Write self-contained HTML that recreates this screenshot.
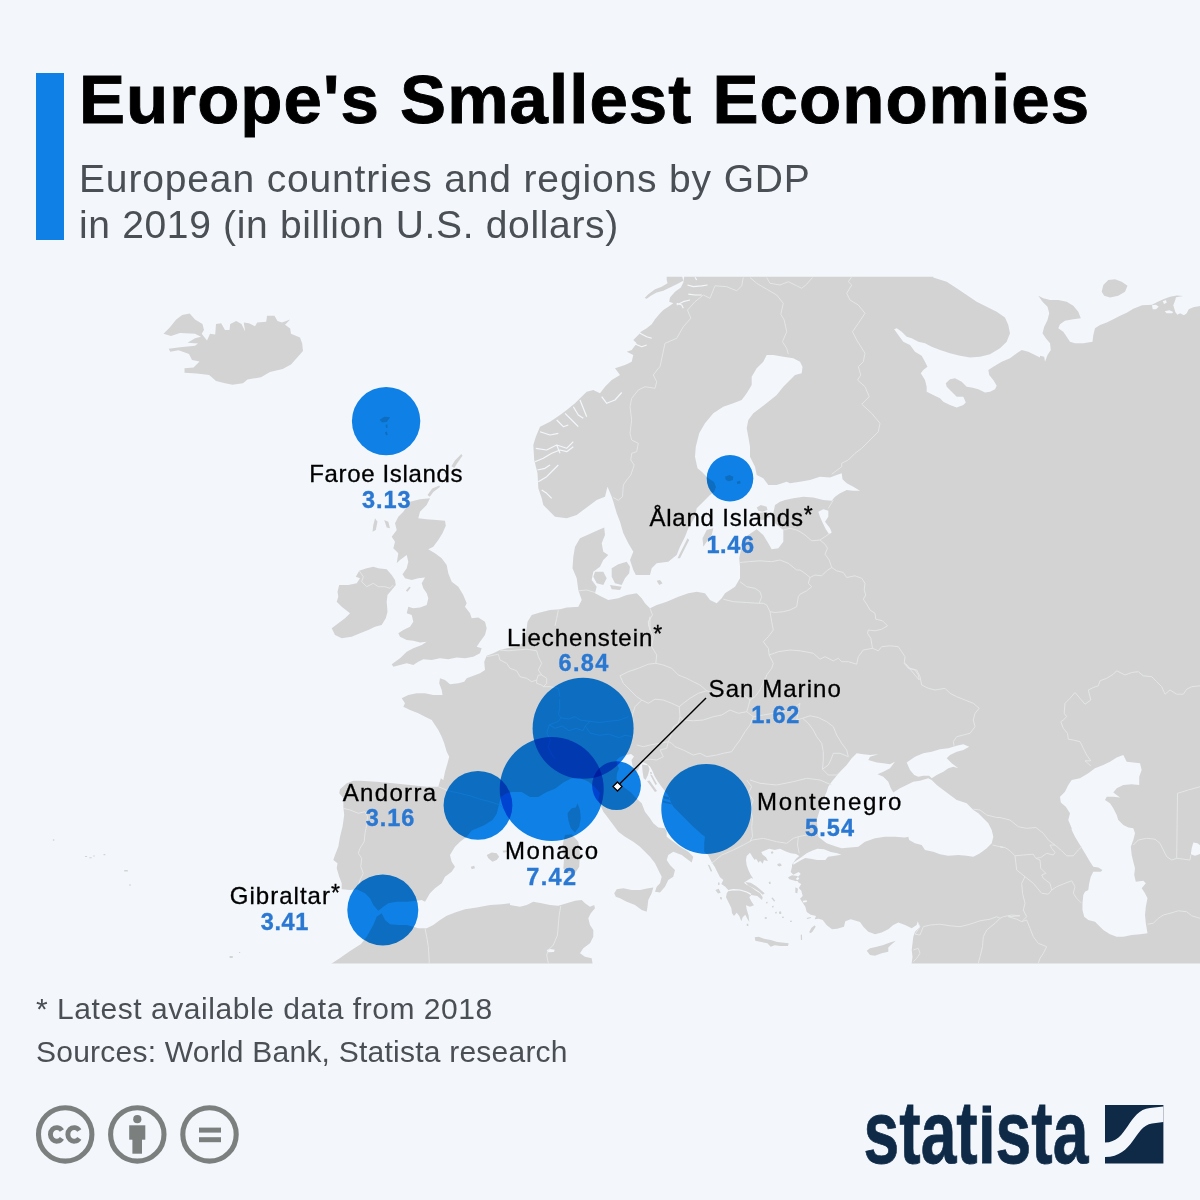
<!DOCTYPE html>
<html><head><meta charset="utf-8">
<style>
html,body{margin:0;padding:0;}
body{width:1200px;height:1200px;background:#f3f7fb;position:relative;overflow:hidden;font-family:"Liberation Sans",sans-serif;}
#bar{position:absolute;left:36px;top:73px;width:28px;height:167px;background:#0f80e6;}
#title{position:absolute;left:79px;top:61px;font-size:69px;font-weight:bold;color:#000;white-space:nowrap;line-height:78px;letter-spacing:1.05px;-webkit-text-stroke:0.9px #000;}
.sub{position:absolute;left:79px;font-size:39px;color:#4a4f55;white-space:nowrap;line-height:46px;letter-spacing:0.85px;}
.foot{position:absolute;left:36px;font-size:30px;color:#4a4f55;white-space:nowrap;line-height:36px;letter-spacing:0.8px;}
#map{position:absolute;left:0;top:0;width:1200px;height:1200px;}
.lbl{position:absolute;white-space:nowrap;font-size:24px;line-height:28px;margin-top:-21.93px;color:#000;-webkit-text-stroke:0.3px #000;}
.val{position:absolute;white-space:nowrap;font-size:23.5px;line-height:28px;margin-top:-21.77px;color:#2a78d2;font-weight:bold;-webkit-text-stroke:0.35px #2a78d2;}
.st{letter-spacing:0;position:relative;top:-3.5px;font-size:23px;}
</style></head><body>
<svg id="map" viewBox="0 0 1200 1200">
<defs><clipPath id="mc"><rect x="0" y="276.8" width="1200" height="686.8"/></clipPath></defs>
<g clip-path="url(#mc)">
<path fill="#d3d3d3" d="M684.2,261.7 L684.2,276.7 L683.3,282.5 L680.8,287.5 L675,291.7 L670,297.5 L669.2,301.7 L673.3,303.3 L668.3,306.7 L663.3,310 L659.2,314.2 L655,319.2 L651.7,324.2 L646.7,328.3 L640.8,331.7 L640,333.3 L633.3,340 L636.7,343.3 L631.7,350 L626.7,351.7 L633.3,355 L631.7,361.7 L625,365 L615,368.3 L620,375 L611.7,380 L605,386.7 L600,393.3 L593.3,390 L586.7,391.7 L580,398.3 L575,403.3 L566.7,410 L560,415 L550,421.7 L540,426.7 L535.8,436.7 L533.3,445 L535.8,453.3 L533.3,445 L534.2,460 L537.5,473.3 L538.3,488.3 L541.7,498.3 L543.3,505 L550,511.7 L555,516.7 L566.7,518.3 L576.7,515 L583.3,510 L590,505 L596.7,500 L605,496.7 L607.5,486.7 L611.7,496.7 L613.3,501.7 L616.7,513.3 L620,521.7 L623.3,533.3 L628.3,543.3 L633.3,551.7 L630,560 L633.3,570 L635.8,575 L650,575 L651.7,568.3 L656.7,563.3 L668.3,561.7 L676.7,555 L680,546.7 L685,536.7 L688.3,528.3 L695,516.7 L696.7,508.3 L703.3,501.7 L710,495 L714,492 L716,487 L714,482 L708,478 L702,472 L697.5,468.3 L695,456.7 L695.8,446.7 L699.2,433.3 L705,423.3 L713.3,413.3 L723.3,406.7 L733.3,403.3 L741.7,400 L746.7,393.3 L751.7,385 L751.7,376.7 L756.7,368.3 L763.3,361.7 L766.7,355 L773.3,355 L783.3,356.7 L793.3,358.3 L800,361.7 L802.5,366.7 L801.7,373.3 L795,375 L790,380 L783.3,386.7 L776.7,395 L768.3,401.7 L760,408.3 L753.3,413.3 L748.3,420 L746.7,428.3 L748.3,436.7 L750,446.7 L750,456.7 L755,466.7 L756.7,475 L763.3,478.3 L768.3,485 L776.7,485 L786.7,481.7 L790,483.3 L800,481.7 L810,480 L820,476.7 L830,477.5 L836.7,475 L841.7,473.3 L842.5,479.2 L846.7,483.3 L853.3,486.7 L860,490.8 L853.3,490.8 L846.7,490 L840,493.3 L835,496.7 L831.7,500.8 L823.3,500 L813.3,497.5 L803.3,496.7 L793.3,498.3 L785,500 L780,501.7 L775,505 L773.3,513.3 L775,523.3 L783.3,530 L783.3,541.7 L778.3,548.3 L771.7,549.2 L768.3,543.3 L763.3,535 L756.7,529.2 L748.3,535 L741.7,546.7 L739.2,558.3 L740,566.7 L740,578.3 L735,586.7 L725,593.3 L721.7,598.3 L716.7,603.3 L710,600 L705,593.3 L696.7,591.7 L688.3,593.3 L678.3,596.7 L666.7,601.7 L656.7,605 L650,608.3 L645,603.3 L641.7,598.3 L636.7,593.3 L626.7,595 L618.3,598.3 L608.3,600 L601.7,596.7 L595,593.3 L596.7,586.7 L591.7,580 L593.3,571.7 L600,566.7 L603.3,560 L608.3,555 L603.3,551.7 L601.7,543.3 L605,535 L604.2,527.5 L596.7,530.8 L580,538.3 L575,546.7 L573.3,556.7 L572.5,568.3 L576.7,578.3 L578.3,590 L581.7,600 L578.3,606.7 L580,606.7 L566.7,607.5 L560,609.2 L550,610 L540,612.5 L531.7,615 L527.5,621.7 L526.7,628.3 L525,636.7 L522.5,643.3 L516.7,646.7 L506.7,648.3 L500,650 L493.3,653.3 L486.7,655.8 L484.2,661.7 L485,670 L480,673.3 L473.3,675.8 L466.7,678.3 L464.2,681.7 L458.3,683.3 L450,684.2 L445,680 L440,678.3 L439.2,683.3 L441.7,690 L442.5,695 L433.3,695 L425,693.3 L416.7,693.3 L408.3,695 L401.7,698.3 L405,703.3 L403.3,706.7 L410,710 L418.3,713.3 L425,716.7 L431.7,720 L435,725 L438.3,730 L441.7,736.7 L444.2,743.3 L446.7,751.7 L449.2,756.7 L447.5,763.3 L445,771.7 L443.3,780 L440.8,778.3 L438.3,786.7 L426.7,786.7 L410,785 L393.3,783.3 L376.7,781.7 L360,780.8 L353.3,780.8 L346.7,783.3 L340,789.2 L339.2,793.3 L343.3,798.3 L343.3,806.7 L344.2,815 L342.5,826.7 L340,836.7 L338.3,846.7 L335,855 L333.3,860 L337.5,863.3 L336.7,868.3 L339.2,876.7 L341.7,883.3 L341.7,889.2 L350,890 L356.7,889.2 L365,893.3 L370,898.3 L373.3,905 L378.3,910.8 L383.3,906.7 L388.3,903.3 L396.7,901.7 L406.7,901.7 L416.7,900.8 L421.7,900 L425,901.7 L430,893.3 L435,888.3 L441.7,883.3 L445,876.7 L451.7,871.7 L455,866.7 L451.7,861.7 L450,855 L455,846.7 L460,841.7 L466.7,836.7 L471.7,830.4 L484.2,825.2 L492.5,820 L496.7,813.8 L498.8,805.4 L500.8,797.1 L507.1,792.9 L512.3,791.9 L521.7,791.9 L530,797.1 L538.3,797.1 L546.7,791.9 L555,788.8 L563.3,782.5 L571.7,778.3 L580,778.3 L588.3,781.5 L594.6,786.7 L599.8,792.9 L598.3,800 L603.3,811.7 L608.3,818.3 L613.3,825 L618.3,831.7 L625,836.7 L633.3,841.7 L640,846.7 L645,851.7 L650,856.7 L655,863.3 L658.3,870 L661.7,876.7 L660,883.3 L656.7,886.7 L655,891.7 L660,892.5 L665,886.7 L668.3,880 L673.3,876.7 L675,870 L670,865 L666.7,860 L668.3,855 L673.3,851.7 L681.7,855 L688.3,860 L691.7,862.5 L693.3,856.7 L688.3,851.7 L680,846.7 L673.3,841.7 L666.7,836.7 L666.7,831.7 L665,828.3 L658.3,827.5 L653.3,823.3 L650,818.3 L645,811.7 L641.7,803.3 L636,798 L631,792.5 L625,788 L619.5,784.5 L616.5,779 L617,773 L619,768.5 L617,764 L616.5,760 L620,757 L626,755 L631,754 L634,756.5 L631.5,760 L632.5,766 L634.5,770 L636,772.5 L638.5,769 L640,765 L642.5,762 L646,763.5 L650,766.5 L652.5,771 L654.5,776 L657.5,781 L661,786 L664.5,790.5 L668,795 L670,800 L673.3,806.7 L683.3,816.7 L693.3,826.7 L701.7,834.2 L705,836.7 L704.2,843.3 L704.2,851.7 L708,854.7 L712,862.7 L714.7,866.7 L717.3,872 L720,877.3 L723.3,880 L721.3,884 L725.3,886.7 L728.7,890.4 L726.7,893.3 L726,897.3 L728.7,902.7 L731.3,908 L732,913.3 L734,916 L736.7,912.7 L739.3,916 L741.3,921.3 L742.7,917.3 L745.3,914.7 L747.3,918.7 L749.3,922 L748.7,916 L746.7,909.3 L746,905.3 L750,906.7 L754,905.3 L751.3,901.3 L749.3,897.3 L751.3,894.9 L757.3,896 L762,900 L762.7,897.3 L760,893.3 L756,890.7 L751.3,887.3 L746.7,884.7 L744,882.7 L748,880 L751.3,878 L753.3,878.7 L750.7,874.7 L748.7,870.7 L746.7,865.3 L746,860 L746.7,856 L750,852.7 L752.7,857.3 L754.7,860 L756,858.7 L758.7,862.7 L760,860.7 L762.7,863.7 L764,860 L768,861.3 L766,857.3 L762.7,854.7 L761.3,852 L769.3,848.7 L774.7,850 L780,848.7 L785.3,851.3 L790.7,853.3 L796,854 L799.3,856 L796,858.7 L793.3,862.7 L792,864.7 L792,866.7 L790.7,872 L793.3,874.7 L798.7,872 L800.7,874 L796,878.7 L798.7,882.7 L801.3,884 L798.7,888 L801.3,890.7 L802.7,896 L800,898.7 L802.7,902.7 L805.3,906.7 L806.7,912 L810.7,914.7 L816,916 L814.7,919.3 L818.7,918.7 L822.7,920 L826.7,925.3 L832,929.3 L837.3,928.7 L844,926.7 L845.3,921.3 L850.7,919.3 L860,922 L863.3,926.7 L868.3,931.7 L875,934.2 L881.7,932.5 L888.3,929.2 L893.3,925 L898.3,922.5 L905,925 L911.7,928.3 L916.7,925 L917.5,921.7 L920,926.7 L915,931.7 L913.3,936.7 L912.5,943.3 L911.7,950 L912.5,956.7 L910.8,970 L1210,980 L1210,306 L1200,306 L1193.3,307.3 L1188.7,309.3 L1186.7,313.3 L1184,315.3 L1180,313.3 L1177.3,314.7 L1175.3,312 L1173.3,305.3 L1175.3,300 L1176,297.3 L1183.3,295.9 L1176.7,295.5 L1170,296.7 L1163.3,299.3 L1157.3,302 L1152,304.7 L1142,305.3 L1133.3,308.7 L1126.7,312.7 L1120,315.8 L1113.3,319.2 L1106.7,322.5 L1100,325 L1095,328.3 L1093.3,335 L1092.5,341.7 L1083.3,343.3 L1075,343.3 L1070,341.7 L1066.7,336.7 L1063.3,331.7 L1058.3,328.3 L1060,324.2 L1065,320.8 L1073.3,319.2 L1080.8,318.3 L1078.3,311.7 L1073.3,305.8 L1066.7,301.7 L1058.3,300 L1050,300 L1043.3,298.3 L1038.3,295.8 L1042.5,301.7 L1047.5,306.7 L1049.2,313.3 L1047.5,320 L1044.2,326.7 L1042.5,333.3 L1045.8,338.3 L1050,343.3 L1050.8,350 L1047.5,355 L1045,361.7 L1044.2,356.7 L1040,355.8 L1040,357.5 L1035,355 L1028.3,351.7 L1021.7,350 L1016.7,353.3 L1010,358.3 L1001.7,361.7 L993.3,366.7 L988.3,370 L989.2,375 L993.3,380 L996.7,385.8 L995,389.2 L990,391.7 L985,392.5 L978.3,389.2 L971.7,387.5 L966.7,386.7 L961.7,381.7 L955,378.3 L950,379.2 L945.8,383.3 L946.7,386.7 L951.7,391.7 L956.7,396.7 L963.3,396.7 L965.8,402.5 L963.3,405 L956.7,407.5 L950,405 L943.3,401.7 L940,398.3 L933.3,395 L926.7,391.7 L926.7,386.7 L925,380 L920.8,373.3 L923.3,370 L927.5,366.7 L925,361.7 L921.7,355.8 L915,351.7 L910,345 L903.3,341.7 L898.3,335 L894.2,329.2 L896.7,328.3 L901.7,331.7 L906.7,336.7 L911.7,338.3 L918.3,341.7 L925,343.3 L931.7,346.7 L940,350 L950,353.3 L960,355.8 L970,357.5 L980,356.7 L990,354.2 L1000,348.3 L1006.7,341.7 L1010,333.3 L1008.3,325 L1005,317.5 L996.7,311.7 L986.7,306.7 L976.7,301.7 L966.7,295 L956.7,288.3 L946.7,281.7 L933.3,277.5 L933,260 L667,260ZM163.5,333.7 L169.5,327.7 L176.2,319.5 L182.2,315 L189.7,313.5 L195,319.5 L202.5,324 L204,330 L201.7,333.7 L207,340.5 L210,333.7 L215.2,334.5 L216,324 L221.2,323.2 L225,330 L229.5,330 L230.2,324 L236.2,321 L241.5,324 L245.2,331.5 L243.7,322.5 L249,323.2 L255,326.2 L257.2,322.5 L266.2,321.7 L267,315.7 L274.5,315.7 L277.5,321 L282,322.5 L290.2,319.5 L285,324.7 L290.2,328.5 L291,333.7 L300,337.5 L302.2,343.5 L303,351 L297,357.7 L291,364.5 L282.7,369 L270,372 L261,377.2 L247.5,379.5 L243,383.2 L232.5,384.7 L225,383.2 L216,381 L209.2,375 L196.5,373.5 L184.5,372.7 L184.5,368.2 L193.5,367.5 L199.5,361.5 L192,360 L189,354 L178.5,350.2 L170.2,351.7 L168.7,348.7 L180,347.2 L195,345.7 L198,343.5 L187.5,342.7 L195,338.2 L201,336.7 L195,333.7 L180,333 L171,336ZM320,980 L326,968 L332,963.3 L340,958 L350,951 L361,944 L366.7,936.7 L373.3,925 L376.7,916.7 L381.7,913.3 L385,920 L390,924.2 L398.3,925 L406.7,925 L413.3,926.7 L418.3,928.3 L426.7,928.3 L433.3,925 L440,920 L446.7,915.8 L455,912.5 L465,909.2 L476.7,907.5 L490,905 L501.7,904.2 L510,903.3 L510,905 L520,906.7 L526.7,905 L533.3,901.7 L541.7,903.3 L550,905 L558.3,905.8 L566.7,903.3 L575,900.8 L581.7,900 L585,903.3 L590,906.7 L594.2,905 L595,908.3 L590.8,913.3 L588.3,918.3 L590,925 L593.3,930 L593.3,936.7 L590,943.3 L583.3,948.3 L580,953.3 L585,956.7 L591.7,958.3 L592.5,963.3 L592.5,986.7ZM410,501.7 L420,499.2 L430,498.3 L426.7,505 L420,511.7 L418.3,518.3 L426.7,519.2 L436.7,520 L445,520.8 L445.8,525.8 L442.5,533.3 L438.3,540 L433.3,546.7 L428.3,549.2 L435,553.3 L441.7,558.3 L446.7,565 L448.3,573.3 L451.7,581.7 L458.3,586.7 L463.3,595 L466.7,603.3 L465,606.7 L470,613.3 L471.7,618.3 L478.3,617.5 L485,621.7 L486.7,628.3 L485,635 L480,641.7 L476.7,646.7 L481.7,648.3 L480,653.3 L473.3,656.7 L465,658.3 L456.7,657.5 L448.3,659.2 L440,658.3 L431.7,660 L423.3,659.2 L418.3,661.7 L413.3,665 L406.7,663.3 L400,665 L393.3,666.7 L391.7,664.2 L400,658.3 L406.7,651.7 L413.3,648.3 L421.7,645 L426.7,641.7 L420,642.5 L413.3,640.8 L406.7,640 L400,636.7 L398.3,633.3 L403.3,630 L410,626.7 L413.3,621.7 L411.7,615 L406.7,613.3 L408.3,606.7 L413.3,608.3 L420,607.5 L426.7,605 L428.3,598.3 L426.7,593.3 L423.3,588.3 L421.7,583.3 L425,577.5 L418.3,578.3 L411.7,580 L405,578.3 L402.5,574.2 L406.7,568.3 L408.3,561.7 L406.7,555 L400,560 L396.7,563.3 L398.3,553.3 L393.3,548.3 L395,541.7 L391.7,536.7 L396.7,530 L395,523.3 L398.3,516.7 L403.3,511.7 L406.7,506.7ZM373.3,566.7 L378.3,568.3 L386.7,569.2 L391.7,575 L395,580 L395.8,585 L391.7,590 L387.5,595 L386.7,601.7 L387.5,611.7 L385.8,618.3 L381.7,625 L375,626.7 L368.3,630 L360,633.3 L351.7,636.7 L341.7,638.3 L335,635 L331.7,628.3 L338.3,623.3 L345,618.3 L350,613.3 L341.7,606.7 L336.7,601.7 L338.3,596.7 L337.5,591.7 L339.2,585 L348.3,585 L356.7,583.3 L360,578.3 L355.8,576.7 L359.2,570.8 L366.7,568.3ZM375,518.3 L377.5,521.7 L375.8,530 L372.5,531.7 L373.3,525ZM384.2,520 L388.3,521.7 L390,528.3 L386.7,527.5ZM405.8,590.8 L409.2,586.7 L410.8,587.5 L407.5,591.7ZM439.2,485.6 L440.3,486.8 L433.3,492 L429.8,496.7 L427.5,494.9 L432.2,488.5ZM595,571.7 L603.3,571.7 L606.7,578.3 L603.3,585 L596.7,583.3 L593.3,576.7ZM611.7,568.3 L618.3,564.2 L626.7,561.7 L630,566.7 L629.2,573.3 L625,578.3 L621.7,585 L615,583.3 L611.7,576.7ZM610,585 L621.7,586.7 L620,590 L611.7,589.2ZM656.7,580.8 L660,580 L662.5,583.3 L659.2,585ZM687.5,538.3 L689.2,540 L680,558.3 L677.5,558.3ZM706.7,530 L713.3,528.3 L711.7,535 L706.7,541.7 L703.3,546.7 L702.5,538.3ZM756.7,513.3 L766.7,511.7 L770,516.7 L763.3,520 L756.7,519.2ZM756.7,507.5 L760.8,505 L766.7,506.7 L767.5,510 L762.5,511.7 L758.3,510.8ZM1101.7,291.7 L1103.3,285 L1108.3,280 L1115,279.2 L1121.7,281.7 L1127.5,285.8 L1125,291.7 L1118.3,295.8 L1110,297.5 L1104.2,295.8ZM577.5,803.3 L580,810 L580.8,818.3 L579.2,826.7 L575,832.5 L570.8,828.3 L568.3,820 L567.5,813.3 L571.7,808.3 L575.8,807.5ZM565,835 L571.7,834.2 L578.3,841.7 L580,853.3 L579.2,866.7 L575,873.3 L566.7,873.3 L563.3,868.3 L564.2,856.7 L562.5,848.3 L563.3,841.7ZM614.2,893.3 L616.7,889.2 L623.3,888.3 L631.7,890 L640,890 L648.3,888.3 L653.3,887.5 L651.7,893.3 L648.3,900 L647.5,906.7 L646.7,911.7 L641.7,910 L635,905 L626.7,901.7 L620,898.3 L615.8,896.7ZM486.7,855 L491.7,852.5 L496.7,853.3 L499.2,856.7 L496.7,860 L492.5,861.7 L488.3,858.3ZM470.8,866.7 L474.2,865.8 L475,868.3 L471.7,869.2ZM754.7,937.3 L758.7,936.7 L764,938.7 L770.7,940 L777.3,942 L784,942.7 L788.7,943.3 L788,946 L780,946 L774.7,945.3 L770.7,946.7 L767.3,943.3 L761.3,942 L755.3,940.7ZM866.7,950.8 L870,948.3 L876.7,946.7 L883.3,945 L890,942.5 L895.8,940.8 L891.7,944.2 L888.3,947.5 L888.3,951.7 L881.7,953.3 L875,955.8 L870,955ZM745.3,882 L750.7,882.7 L756,886 L760,889.3 L764.7,893.3 L762.7,894.7 L758.7,891.3 L753.3,888 L748,885.3ZM770.7,852 L772.7,851.3 L773.6,853.1 L771.7,854ZM777.3,864 L780,863.3 L782,865.3 L779.7,866.4 L777.7,865.7ZM788,877.3 L792,875.3 L797.3,876 L799.3,878.7 L796,881.3 L792,880 L789.3,879.3ZM795.3,887.3 L798,888.7 L797.3,893.3 L795.3,892.7ZM802.7,900.7 L806.7,900.3 L806.9,902 L803.3,902.4ZM768.7,882 L770.4,881.6 L770.7,884 L769.1,884ZM771.3,898 L772.7,897.6 L775.3,901.1 L774,901.6ZM778.9,911.7 L781.1,911.3 L781.3,914 L779.3,914.1ZM775.1,912 L776.7,911.7 L776.9,913.3 L775.3,913.6ZM764.7,917.3 L766.7,917.1 L766.9,918.7 L764.9,918.9ZM772,906 L773.6,905.7 L773.7,907.3 L772.1,907.5ZM766,902 L767.5,901.7 L767.6,903.3 L766.1,903.5ZM782,916.7 L783.7,916.4 L783.9,918 L782.1,918.1ZM790,920.7 L791.7,920.4 L791.9,921.9 L790.1,922ZM809.3,932 L811.3,928 L814.7,925.3 L815.7,926.7 L812.3,932 L810.1,933.3ZM806.7,918 L810.7,916.9 L810.9,918 L807.1,919.1ZM800.7,934.7 L802,934.4 L802.1,940 L800.9,940ZM746.7,923.7 L748.3,923.7 L748.4,926 L746.8,926ZM715.3,890 L718.7,888.7 L720.7,892.7 L718,893.6ZM720,897.1 L721.7,897.3 L722.1,899.6 L720.3,899.3ZM718,882.4 L719.5,882.4 L719.6,885.1 L718.1,885.1ZM707.7,864.4 L709.6,865.3 L712.3,871.3 L710.7,871.6ZM725,476.7 L729.2,475 L733.3,476.7 L732.9,480 L729.2,481.2 L725.8,480ZM736.7,481.7 L740,480.8 L740.8,483.3 L737.5,484.2ZM461.3,454.1 L462.5,455.8 L456.7,464 L454.3,468.1 L451.4,466.3 L454.9,460.5ZM379.7,419.7 L384.3,416.8 L390.2,417.3 L386.7,422 L382,422.6ZM384.9,432.5 L386.7,431.3 L387.8,434.8 L386.1,435.4ZM385.5,424.9 L387.3,424.3 L387.6,427.8 L386.1,428.1ZM642,764.5 L648,765.2 L649.5,769 L648,775 L645.5,780 L643.5,778 L642.5,771ZM650,772 L651.5,772 L652,774 L650.5,774ZM650,774.5 L652,775 L657,784 L655.5,785ZM647,781 L649.5,780.5 L657,791 L655,792ZM664,796 L670,797.5 L670,800 L664,798.5ZM663,800.5 L672,803 L672,804.5 L663,802.5ZM52.9,839.3 L54.3,839.3 L54.3,840.7 L52.9,840.7ZM84.9,856 L87.1,856 L87.1,857 L84.9,857ZM89.3,857.3 L91.7,857.3 L91.7,858.3 L89.3,858.3ZM93.2,855.5 L94.8,855.5 L94.8,856.5 L93.2,856.5ZM103.5,853.9 L105.3,853.9 L105.3,855.3 L103.5,855.3ZM124.2,870 L127.8,870 L127.8,871.6 L124.2,871.6ZM129.3,884.3 L130.7,884.3 L130.7,885.7 L129.3,885.7ZM229.6,956.1 L232.8,956.1 L232.8,957.9 L229.6,957.9ZM239,951.9 L240.2,951.9 L240.2,952.9 L239,952.9ZM502.5,850.8 L506.5,850.3 L507.3,851.8 L503.5,852.8ZM666.7,275 L681.7,275 L683.3,280.8 L676.7,284.2 L670,287.5 L663.3,290.8 L656.7,292.5 L650.8,295.8 L646.7,298.8 L644.6,297.9 L648.3,294.2 L655,289.2 L661.7,286.7 L667.5,283.3 L666.7,280Z"/>
<path fill="#f3f7fb" d="M793.3,862.7 L801.3,857.3 L806.7,853.3 L812,850.7 L817.3,848.7 L824,849.3 L830.7,852 L837.3,853.3 L841.3,854.7 L833.3,856 L828,856.7 L825.3,860 L817.3,860 L810.7,858.7 L805.3,858 L801.3,860 L793.3,864.7ZM828.3,786.7 L831.7,781.7 L840,771.7 L846.7,765 L851.7,758.3 L856.7,753.3 L863.3,754.2 L870,755 L878.3,754.2 L870,756.7 L868.3,760 L876.7,762.5 L883.3,763.3 L890,764.2 L895,761.7 L890,768.3 L883.3,771.7 L877.5,774.2 L883.3,776.7 L888.3,781.7 L890.8,788.3 L893.3,792.5 L900,788.3 L906.7,785 L913.3,781.7 L920,780.8 L928.3,778.3 L931.7,780 L936.7,785 L943.3,790 L950,795 L956.7,800 L966.7,803.3 L973.3,810 L978.3,813.3 L983.3,818.3 L988.3,823.3 L991.7,830 L993.3,836.7 L991.7,843.3 L986.7,848.3 L980,853.3 L973.3,856.7 L966.7,855.8 L958.3,855 L948.3,855.8 L940,854.2 L933.3,851.7 L925,850 L921.7,845 L915,843.3 L909.2,840 L908.3,836.7 L905,837.5 L895,836.7 L885,836.7 L875,838.3 L865,841.7 L858.3,846.7 L841.7,848.3 L836.7,846.7 L826.7,843.3 L818.3,836.7 L816.7,820 L821.7,803.3 L826.7,791.7ZM906.7,762.5 L915,756.7 L923.3,753.3 L931.7,751.7 L940,749.2 L948.3,748.3 L956.7,745.8 L963.3,744.2 L969.2,746.7 L963.3,750 L956.7,751.7 L950,755 L946.7,758.3 L951.7,763.3 L958.3,768.3 L953.3,766.7 L948.3,768.3 L943.3,771.7 L936.7,775 L931.7,778.3 L929.2,775.8 L923.3,775.8 L918.3,776.7 L914.2,775 L910,770ZM1123.3,755 L1126.7,761.7 L1133.3,762.5 L1140,763.3 L1141.7,770 L1139.2,776.7 L1139.2,785 L1131.7,784.2 L1123.3,785 L1116.7,788.3 L1113.3,792.5 L1120,797.5 L1113.3,796.7 L1106.7,796.7 L1105,800 L1110,803.3 L1113.3,808.3 L1116.7,815 L1118.3,820 L1123.3,825 L1128.3,827.5 L1133.3,828.3 L1135,833.3 L1133.3,840 L1130.8,846.7 L1131.7,855 L1133.3,861.7 L1135,868.3 L1134.2,875 L1135.8,881.7 L1143.3,880.8 L1145.8,883.3 L1141.7,888.3 L1145,893.3 L1147.5,898.3 L1145.8,906.7 L1145,915 L1145.8,923.3 L1147.5,933.3 L1140,934.2 L1131.7,935 L1123.3,936.7 L1116.7,936.7 L1110,934.2 L1103.3,930 L1098.3,925 L1095,921.7 L1088.3,920 L1084.2,916.7 L1082.5,910 L1082.5,903.3 L1083.3,895 L1085,891.7 L1088.3,890 L1089.2,883.3 L1090.8,876.7 L1093.3,871.7 L1100.8,871.7 L1102.5,870 L1098.3,867.5 L1093.3,866.7 L1090,861.7 L1085,853.3 L1080,845 L1075,836.7 L1071.7,830 L1071.7,828.3 L1068.3,820 L1070,813.3 L1065.8,806.7 L1060.8,802.5 L1060,796.7 L1065,791.7 L1068.3,785 L1071.7,780 L1080,778.3 L1088.3,773.3 L1095,768.3 L1103.3,765 L1110,761.7 L1116.7,757.5ZM1193.3,842.5 L1197.5,843.3 L1201.7,846.7 L1201.7,853.3 L1195,855.8 L1190.8,854.2 L1191.7,848.3ZM818.3,511.7 L823.3,509.2 L828.3,510.8 L828.3,516.7 L825,521.7 L830,528.3 L831.7,532.5 L829.2,534.2 L825.8,529.2 L822.5,522.5 L820,516.7ZM1152,305.3 L1156,304.7 L1158.7,306.7 L1156,309.3 L1152.7,309.3ZM1164.7,311.3 L1169.3,310.3 L1173.3,312 L1172,313.3 L1166.7,313.3ZM1162.7,301.3 L1166,300 L1166.7,302.7 L1164,304ZM546.7,950 L550,949 L554.7,949.8 L554,952 L548,952.3Z"/>
<path fill="none" stroke="#f3f7fb" stroke-width="1.2" stroke-linejoin="round" d="M728.3,890.7 L733.3,889.6 L740,890 L746.7,892 L751.1,894.4M601.7,396.7 L606.7,403.3 L615,400 L621.7,392.5M580,400 L583.3,408.3 L586.7,416.7M573.3,406.7 L578.3,415 L583.3,418.3M565,413.3 L571.7,420 L578.3,426.7M556.7,420 L563.3,426.7 L568.3,425M540,431.7 L550,435 L558.3,433.3M535.8,448.3 L546.7,450 L556.7,445 L566.7,448.3 L573.3,441.7M556.7,445 L560,453.3M633.3,343.3 L641.7,346.7 L646.7,345M640,333.3 L646.7,336.7 L651.7,338.3M676.7,305 L683.3,301.7 L690,300M535,461.7 L543.3,458.3 L551.7,453.3 L560,450 L566.7,451.7 L573.3,446.7M538.3,481.7 L546.7,476.7 L553.3,470 L558.3,465M541.7,490 L546.7,493.3 L551.7,498.3M537.5,470 L545,468.3 L550,465M687.5,285 L693.3,286.7 L701.7,285.8 L707.5,285M688.3,294.2 L695,295 L701.7,295M676.7,303.3 L681.7,305 L683.3,308.3M695,277.3 L696.7,280"/><path fill="none" stroke="#e6e8ea" stroke-width="0.85" stroke-linejoin="round" d="M743.3,277.5 L741.7,285.8 L736.7,290.8 L726.7,286.7 L715,285.8 L710,298.3 L703.3,295 L695,301.7 L687.5,310 L690.8,318.3 L683.3,326.7 L676.7,338.3 L665,343.3 L660,366.7 L658.3,368.3 L653.3,375 L656.7,381.7 L655,388.3 L645,386.7 L638.3,390 L631.7,398.3 L630,406.7 L631.7,420 L630,433.3 L631.7,440 L638.3,443.3 L636.7,451.7 L631.7,453.3 L630.8,460 L634.2,465 L630.8,475 L626.7,480 L623.3,485 L622.5,496.7 L618.3,500.3 L613.3,497.5M750,277.5 L756.7,283.3 L766.7,289.2 L776.7,295 L783.3,303.3 L780.8,314.2 L784.2,320 L786.7,331.7 L782.5,341.7 L786.7,348.3 L788.3,354.2M766.7,277.5 L770,283.3 L780,285 L788.3,281.7 L796.7,285.8 L801.7,288.3 L806.7,284.2 L812.5,277.5M851.7,276.7 L848.3,281.7 L851.7,285 L846.7,293.3 L850,300 L858.3,305 L865,313.3 L858.3,323.3 L852.5,331.7 L856.7,340 L865,353.3 L863.3,361.7 L858.3,366.7 L860.8,375 L857.5,380 L865,386.7 L869.2,396.7 L861.7,404.2 L871.7,413.3 L880,423.3 L878.3,431.7 L870,440 L861.7,448.3 L855,453.3 L848.3,460 L841.7,463.3 L841.7,466.7 L831.7,474.2M833.3,500 L828.3,508.3M830,533.3 L825,536.7 L820,540 L811.7,540.8 L805,535 L800,531.7 L796.7,530 L790,528.3 L783.3,530M820,540 L825,544.2 L827.5,548.3 L825,554.2 L829.2,560 L831.7,567.5 L826.7,570.8 L821.7,575.8 L815,575 L810,577.5 L805,573.3 L800,570 L796.7,570 L788.3,563.3 L780,560 L771.7,561.7 L760,560.8 L748.3,561.7 L740,562.5M810,577.5 L808.3,583.3 L811.7,586.7 L806.7,590.8 L800,594.2 L798.3,596.7 L796.7,606.7 L790,610 L783.3,611.7 L775,612.5 L770,611.7 L766.7,605 L763.3,603.3 L759.2,603.3 L746.7,602.5 L733.3,601.7 L723.3,599.2M740,581.7 L746.7,586.7 L755,588.3 L760,591.7 L761.7,596.7 L759.2,603.3M831.7,567.5 L836.7,570.8 L843.3,572.5 L846.7,577.5 L855,575.8 L861.7,578.3 L865,583.3 L864.2,590 L865.8,595 L863.3,599.2 L866.7,604.2 L870,610 L875,613.3 L875.8,619.2 L882.5,620.8 L887.5,625.8 L881.7,629.2 L875,630.8 L868.3,630 L867.5,633.3 L870.8,638.3 L872.5,648.3 L878.3,650.8 L881.7,646.7 L890,645.8 L898.3,646.7 L901.7,651.7 L905,656.7 L904.2,663.3 L908.3,668.3 L915,670 L918.3,675 L919.2,680 L905,663.3 L910,668.3 L916.7,670 L920,676.7 L921.7,685 L928.3,688.3 L935,690 L945,688.3 L950,693.3 L956.7,696.7 L965,700 L973.3,703.3 L979.2,708.3 L975,713.3 L973.3,720 L975,726.7 L970,733.3 L963.3,735 L956.7,736.7 L953.3,741.7 L954.2,746.7M872.5,648.3 L863.3,650 L858.3,656.7 L856.7,664.2 L848.3,661.7 L841.7,661.7 L838.3,658.3 L833.3,660.8 L825,656.7 L820,659.2 L813.3,653.3 L805,651.7 L800,650.8 L790,650 L778.3,651.7 L769.2,655M770,611.7 L771.7,621.7 L773.3,630 L768.3,636.7 L763.3,641.7 L768.3,648.3 L769.2,655 L773.3,663.3 L771.7,668.3 L766.7,675 L765,680 L765,678.3 L760,690 L755,696.7 L750,700M650,608.3 L652.5,615 L648.3,621.7 L650,630 L650,616.7 L648.3,625 L653.3,636.7 L651.7,646.7 L656.7,655 L655.8,663.3M655.8,663.3 L663.3,665 L671.7,668.3 L678.3,675 L686.7,678.3 L693.3,681.7 L700,685 L706.7,690.8 L715,693.3 L723.3,692.5 L733.3,693.3 L743.3,695 L750,700 L748.3,706.7 L746.7,711.7M655.8,663.3 L648.3,664.2 L638.3,668.3 L628.3,671.7 L620,675.8 L623.3,683.3 L630,690 L636.7,696.7 L641.7,700 L648.3,703.3 L655,699.2 L663.3,700 L671.7,703.3 L679.2,706.7 L683.3,703.3 L690,698.3 L698.3,693.3 L706.7,690.8M746.7,711.7 L738.3,713.3 L730,710 L721.7,715 L713.3,716.7 L703.3,720 L693.3,720.8 L683.3,720 L680,716.7 L679.2,706.7M680,716.7 L678.3,723.3 L673.3,726.7 L671.7,733.3 L668.3,741.7 L660,743.3 L650,745 L643.3,746.7 L636.7,745M641.7,700 L635,706.7 L631.7,716.7M746.7,711.7 L753.3,716.7 L750,725 L745,731.7 L740,740 L735,746.7 L731.7,751.7 L723.3,753.3 L716.7,755 L706.7,756.7 L700,753.3 L693.3,755 L683.3,750 L675,746.7 L671.7,743.3 L668.3,741.7 L666.7,748.3 L660,750 L663.3,756.7 L656.7,760 L650,759.2 L645,760M753.3,716.7 L763.3,715 L773.3,713.3 L783.3,711.7 L793.3,708.3 L800,703.3 L796.7,720 L802.5,718.3 L810,715.8 L818.3,717.5 L826.7,721.7 L833.3,726.7 L836.7,735 L841.7,743.3 L846.7,750 L848.3,756.7 L840,753.3 L833.3,753.3 L830.8,760 L828.3,765 L822.5,769.2 L828.3,775 L836.7,775 L840,771.7M802.5,718.3 L808.3,723.3 L813.3,730 L816.7,736.7 L821.7,743.3 L823.3,751.7 L823.3,760 L822.5,769.2M1200,685.8 L1191.7,686.7 L1186.7,689.2 L1183.3,694.2 L1176.7,694.2 L1170,690 L1165,694.2 L1161.7,686.7 L1156.7,681.7 L1151.7,676.7 L1143.3,675.8 L1138.3,671.7 L1131.7,672.5 L1125,675 L1116.7,670.8 L1113.3,674.2 L1106.7,678.3 L1100,680.8 L1098.3,685.8 L1093.3,687.5 L1088.3,690 L1090.8,700 L1085,704.2 L1080,698.3 L1075,692.5 L1070,698.3 L1065,703.3 L1064.2,713.3 L1066.7,716.7 L1063.3,720 L1060.8,721.7 L1063.3,728.3 L1067.5,733.3 L1068.3,739.2 L1073.3,740 L1080,741.7 L1083.3,748.3 L1086.7,755 L1090.8,760.8 L1085,760.8 L1090.8,765.8M1200,786.7 L1188.3,790 L1177.5,793.3 L1176.7,858.3 L1190,860 L1190.8,855M1133.3,845 L1138.3,840 L1146.7,838.3 L1155,839.2 L1160,843.3 L1163.3,850 L1166.7,856.7 L1171.7,860 L1176.7,858.3M973.3,809.2 L980,810 L986.7,815 L996.7,817.5 L1000,817.5 L1010,820 L1018.3,826.7 L1026.7,828.3 L1035.8,827.5 L1043.3,833.3 L1048.3,840 L1055,845 L1061.7,850.8 L1066.7,855.8 L1073.3,855.8 L1078.3,850 L1081.7,846.7M992.5,845 L1003.3,847.5 L1000,846.7 L1005,847.5 L1010,850.8 L1015,855.8 L1023.3,855 L1033.3,854.2 L1035.8,858.3 L1040.8,857.5 L1046.7,853.3 L1053.3,855 L1055,852.5 L1051.7,848.3 L1050,845 L1055,845M1015,855.8 L1016.7,870 L1025,876.7 L1033.3,883.3 L1041.7,893.3 L1048.3,894.2 L1051.7,890 L1050,883.3 L1043.3,878.3 L1041.7,875 L1045.8,873.3 L1040.8,868.3 L1040,860 L1035.8,858.3M1051.7,890 L1056.7,886.7 L1065,883.3 L1071.7,880.8 L1075,886.7 L1073.3,893.3 L1076.7,898.3 L1081.7,903.3M1025,876.7 L1021.7,883.3 L1022.5,893.3 L1025,903.3 L1023.3,910 L1026.7,916.7 L1021.7,921.7 L1026.7,920 L1030,928.3 L1033.3,936.7 L1038.3,943.3 L1046.7,946.7 L1043.3,953.3 L1040,958.3 L1038.3,963.3M1147.5,924.2 L1153.3,923.3 L1158.3,918.3 L1163.3,915 L1170,913.3 L1178.3,910.8 L1186.7,911.7 L1191.7,915.8 L1200,918.3M917.5,921.7 L920,926.7 L915,934.2 L920,935 L923.3,926.7 L930,925 L940,924.2 L950,925.8 L960,926.7 L970,924.2 L980,920.8 L990,919.2 L996.7,916.7 L1000,918.3 L1003.3,916.7 L1011.7,915 L1020,915.8 L1008.3,916.7 L1016.7,919.2 L1021.7,921.7M1000,918.3 L995,923.3 L986.7,930 L983.3,936.7 L982.5,946.7 L980,956.7 L978.3,963.3M913.3,950 L918.3,948.3 L920,953.3 L916.7,958.3 L913.3,961.7M558.3,610 L556.7,618.3 L555,625.8M486.7,656.7 L498.3,654.2 L500,660 L506.7,663.3 L510,668.3 L516.7,670.8 L520,676.7 L526.7,678.3 L531.7,681.7 L536.7,680 L538.3,675 L541.7,675 L546.7,678.3 L546.7,683.3 L543.3,686.7 L550,686.7 L558.3,688.3 L560,696.7M500,650 L508.3,650.8 L516.7,650 L526.7,649.2 L536.7,650.8 L538.3,656.7 L541.7,663.3 L538.3,670 L541.7,675M536.7,680 L536.7,683.3 L541.7,685 L543.3,686.7M343.3,808.3 L350,810 L358.3,813.3 L365,811.7 L367.5,816.7 L366.7,825 L365,833.3 L364.2,841.7 L360,848.3 L358.3,853.3 L361.7,858.3 L360.8,866.7 L363.3,873.3 L360,880 L357.5,888.3M438.3,786.7 L448.3,790.8 L460,793.3 L470,795.8 L480,799.2 L490,801.7 L500,805 L503.3,808.3M359.2,570.8 L363.3,576.7 L361.7,581.7 L366.7,586.7 L373.3,583.3 L378.3,586.7 L385,586.7 L390,588.3 L393.3,585M425,928.3 L426.7,936.7 L428.3,946.7 L429.2,960 L429.2,976.7M560.8,905.8 L559.2,915 L558.3,925 L557.5,935 L553.3,945 L548.3,950 L546.7,955 L548.3,963.3 L548.3,970M746.7,780 L751.7,786.7 L748.3,793.3 L753.3,800 L750,808.3 L752.5,818.3 L751.7,826.7 L752.5,836.7 L750,841.7M711.7,863.3 L721.7,855 L733.3,850 L743.3,845 L752.5,840 L763.3,838.3 L776.7,841.7 L786.7,843.3 L793.3,838.3 L798.3,836.7 L797.5,845 L799.2,853.3M798.3,836.7 L806.7,835 L815,834.2 L820,836.7M750,780 L760,783.3 L776.7,785 L793.3,781.7 L806.7,778.3 L820,780 L831.7,785M559.7,699.2 L559.7,708.5 L558.5,714.3 L560.8,717.8 L569,719 L574.8,716.7 L580.7,720.2 L590,721.3 L599.3,722.5 L608.7,721.3 L619.2,720.2 L628.5,716.7M560.8,717.8 L558.5,721.3 L549.2,724.8 L555,728.3 L562,726 L569,730.7 L576,728.3 L583,730.7 L585.3,726 L590,721.3M585.3,726 L590,733 L599.3,735.3 L608.7,734.2 L619.2,737.7 L625,735.3 L632,736.5M549.2,724.8 L546.8,733 L550.3,740 L548,747 L551.5,754 L555,758.7M578.3,590.8 L586.7,590 L595,592.5"/>
</g>
<g style="mix-blend-mode:multiply" fill="#0f84e9">
<circle style="mix-blend-mode:multiply" cx="386.1" cy="421.1" r="34.2"/>
<circle style="mix-blend-mode:multiply" cx="730" cy="478.3" r="23.3"/>
<circle style="mix-blend-mode:multiply" cx="583.1" cy="728.3" r="50.5"/>
<circle style="mix-blend-mode:multiply" cx="551.7" cy="789" r="52"/>
<circle style="mix-blend-mode:multiply" cx="478" cy="805.4" r="34.4"/>
<circle style="mix-blend-mode:multiply" cx="616.5" cy="785.6" r="24.4"/>
<circle style="mix-blend-mode:multiply" cx="706.3" cy="809" r="45"/>
<circle style="mix-blend-mode:multiply" cx="382.8" cy="910" r="35.5"/>
</g>
<line x1="617.5" y1="786" x2="706" y2="698" stroke="#000" stroke-width="1.4"/>
<rect x="-3.2" y="-3.2" width="6.4" height="6.4" fill="#fff" stroke="#000" stroke-width="1.3" transform="translate(617.5 786.5) rotate(45)"/>
</svg>
<div id="bar"></div>
<div id="title">Europe's Smallest Economies</div>
<div class="sub" id="s1" style="top:156px">European countries and regions by GDP</div>
<div class="sub" id="s2" style="top:202px;letter-spacing:0.66px">in 2019 (in billion U.S. dollars)</div>
<div class="foot" id="f1" style="top:991px;letter-spacing:0.55px">* Latest available data from 2018</div>
<div class="foot" id="f2" style="top:1033.5px;letter-spacing:0.23px">Sources: World Bank, Statista research</div>

<div class="lbl" style="left:309.3px;top:481.8px;letter-spacing:0.64px">Faroe Islands</div>
<div class="lbl" style="left:649.4px;top:526.4px;letter-spacing:0.79px">Åland Islands<span class="st">*</span></div>
<div class="lbl" style="left:506.9px;top:645.8px;letter-spacing:0.97px">Liechenstein<span class="st">*</span></div>
<div class="lbl" style="left:708.6px;top:697.4px;letter-spacing:1.05px">San Marino</div>
<div class="lbl" style="left:342.7px;top:800.7px;letter-spacing:1.33px">Andorra</div>
<div class="lbl" style="left:505.0px;top:859.3px;letter-spacing:1.53px">Monaco</div>
<div class="lbl" style="left:757.0px;top:810.0px;letter-spacing:1.81px">Montenegro</div>
<div class="lbl" style="left:229.7px;top:904.3px;letter-spacing:1.03px">Gibraltar<span class="st">*</span></div>
<div class="val" style="left:362.1px;top:507.5px;letter-spacing:0.91px">3.13</div>
<div class="val" style="left:706.4px;top:552.4px;letter-spacing:0.61px">1.46</div>
<div class="val" style="left:558.5px;top:671.1px;letter-spacing:1.34px">6.84</div>
<div class="val" style="left:751.3px;top:722.7px;letter-spacing:0.74px">1.62</div>
<div class="val" style="left:365.7px;top:825.7px;letter-spacing:0.98px">3.16</div>
<div class="val" style="left:526.3px;top:885.0px;letter-spacing:1.34px">7.42</div>
<div class="val" style="left:805.0px;top:836.0px;letter-spacing:1.11px">5.54</div>
<div class="val" style="left:260.7px;top:930.0px;letter-spacing:0.64px">3.41</div>

<!-- logo + cc placeholders -->
<svg style="position:absolute;left:0;top:1090px" width="1200" height="110" viewBox="0 1090 1200 110">
<g fill="none" stroke="#7b7f7e" stroke-width="5.1">
<circle cx="65.2" cy="1134.4" r="26.7"/><circle cx="137.3" cy="1134.4" r="26.7"/><circle cx="209.5" cy="1134.4" r="26.7"/>
</g>
<g fill="none" stroke="#7b7f7e" stroke-width="4.9">
<path d="M61.9,1130.5 A6.3,6.8 0 1 0 61.9,1138.3"/>
<path d="M79.3,1130.5 A6.3,6.8 0 1 0 79.3,1138.3"/>
</g>
<g fill="#7b7f7e">
<circle cx="137.3" cy="1119.2" r="4.1"/>
<rect x="129.2" y="1125.3" width="16.1" height="14.4"/>
<rect x="132.4" y="1139" width="9.6" height="14.7"/>
<rect x="199" y="1127.6" width="22" height="5"/>
<rect x="199" y="1137.2" width="22" height="5"/>
</g>
<g fill="#0f2a47">
<text x="863.5" y="1162.5" font-family="Liberation Sans, sans-serif" font-weight="bold" font-size="89.5" textLength="225" stroke="#0f2a47" stroke-width="0.8" lengthAdjust="spacingAndGlyphs">stat&#305;sta</text>
<rect x="982.6" y="1105.5" width="8.4" height="7.2"/>
<path d="M1105,1105 H1163.4 V1163.4 H1105 Z" />
</g>
<path fill="#f3f7fb" d="M1105,1142.5 C1128,1142.5 1128,1110 1150,1108 L1163.4,1106.5 V1122 L1152,1123.5 C1134,1126 1134,1157 1105,1157 Z"/>
</svg>

</body></html>
